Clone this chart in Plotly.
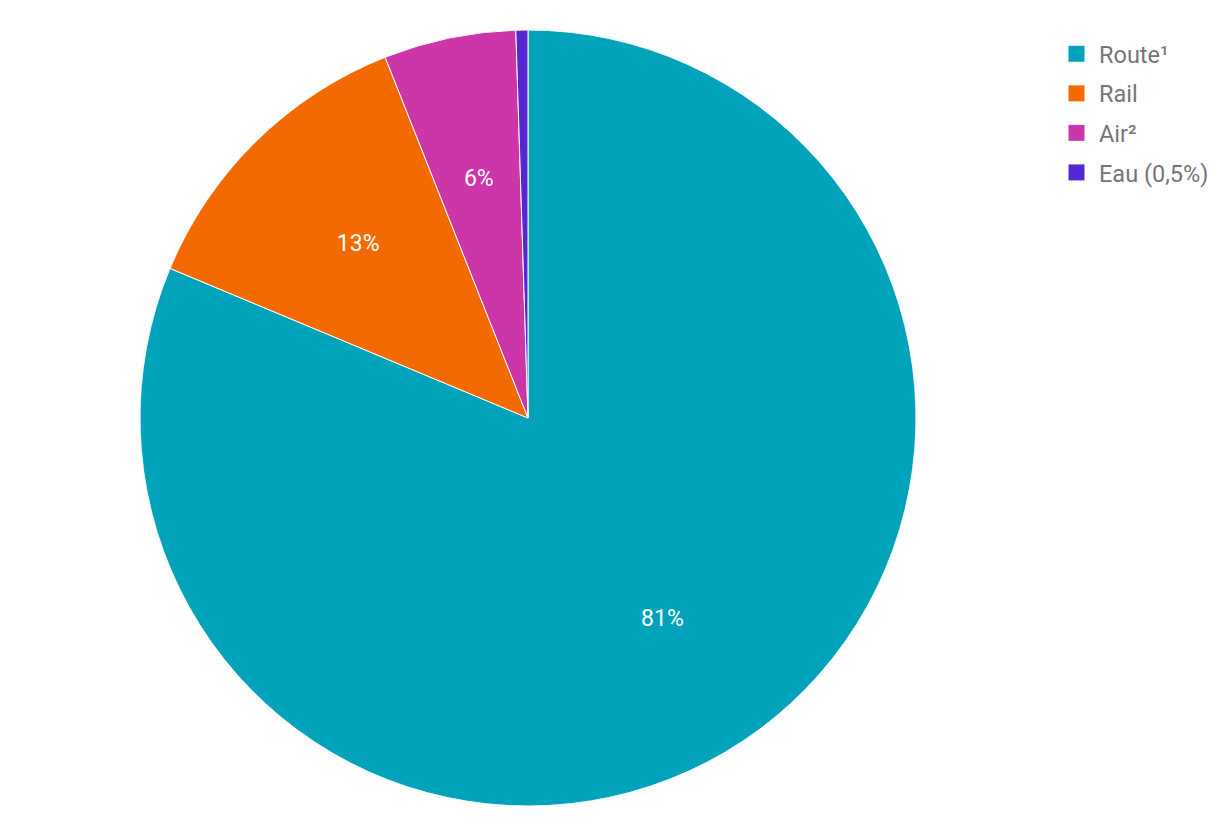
import plotly.graph_objects as go

labels = ["Route¹", "Rail", "Air²", "Eau (0,5%)"]
values = [81.3, 12.7, 5.5, 0.5]
slice_text = ["81%", "13%", "6%", ""]
colors = ["#00A3B9", "#F36A00", "#CC36A9", "#5427D1"]

W, H = 1220, 818
cx, cy, r = 528, 418, 388

total = sum(values)
widths = [v / total * 360 for v in values]
mids = []
acc = 0.0
for w in widths:
    mids.append(acc + w / 2)
    acc += w

fig = go.Figure()
for i, lab in enumerate(labels):
    fig.add_trace(go.Barpolar(
        r=[1], theta=[mids[i]], width=[widths[i]], base=0,
        marker=dict(color=colors[i], line=dict(color="white", width=1)),
        name=lab, showlegend=False, hovertemplate=lab + ": " + slice_text[i] + "<extra></extra>",
    ))
fig.add_trace(go.Scatterpolar(
    r=[0.625] * len(values), theta=mids, mode="text", text=slice_text,
    textfont=dict(family="Roboto", size=23, color="white"),
    textposition="middle center", showlegend=False, hoverinfo="skip",
))
for i, (lab, col) in enumerate(zip(labels, colors)):
    fig.add_trace(go.Scatterpolar(
        r=[None], theta=[None], mode="markers", name=lab, legendgroup=str(i),
        marker=dict(symbol="square", size=16, color=col),
        hoverinfo="skip",
    ))

fig.update_layout(
    width=W, height=H,
    margin=dict(l=0, r=0, t=0, b=0),
    paper_bgcolor="white",
    polar=dict(
        domain=dict(x=[(cx - r) / W, (cx + r) / W], y=[(H - cy - r) / H, (H - cy + r) / H]),
        bgcolor="rgba(0,0,0,0)", bargap=0, hole=0,
        angularaxis=dict(visible=False, rotation=90, direction="clockwise", showgrid=False),
        radialaxis=dict(visible=False, range=[0, 1], showgrid=False),
    ),
    showlegend=True,
    legend=dict(
        x=1054 / W, y=1 - 32 / H, xanchor="left", yanchor="top",
        font=dict(family="Roboto", size=23.5, color="#757575"),
        tracegroupgap=6, itemwidth=35,
        bgcolor="rgba(0,0,0,0)",
    ),
)
fig.write_html("out.html", config={"displayModeBar": False},
               post_script="document.body.style.margin='0';")
